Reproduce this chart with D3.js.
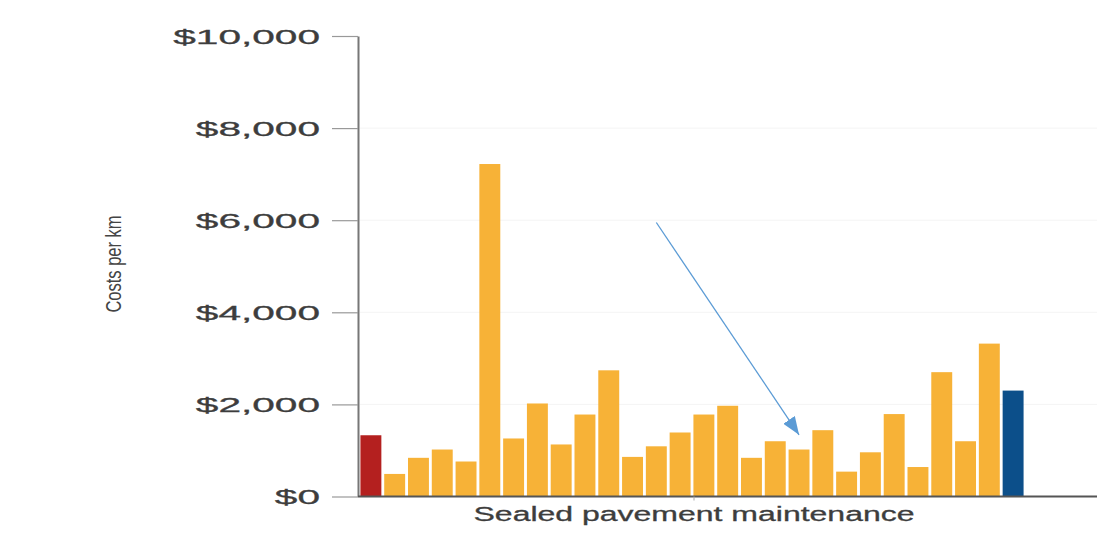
<!DOCTYPE html>
<html>
<head>
<meta charset="utf-8">
<script src="https://cdn.jsdelivr.net/npm/d3@7"></script>
<style>
  html, body { margin: 0; padding: 0; background: #fff; }
  svg { display: block; }
  text { font-family: "Liberation Sans", Arial, sans-serif; }
</style>
</head>
<body>
<svg id="chart" width="1097" height="542"></svg>
<script>
// Councils compared, in display order (benchmark first, average last)
const councils = [
  "C01", "C02", "C03", "C04", "C05", "C06", "C07", "C08", "C09", "C10",
  "C11", "C12", "C13", "C14", "C15", "C16", "C17", "C18", "C19", "C20",
  "C21", "C22", "C23", "C24", "C25", "C26", "C27", "C28"
];
// Sealed pavement maintenance cost per km ($)
const costs = [
  1330, 490, 840, 1020, 760, 7220, 1260, 2020, 1130, 1780,
  2740, 860, 1090, 1390, 1780, 1970, 840, 1200, 1020, 1440,
  540, 960, 1790, 640, 2700, 1200, 3320, 2300
];
// Bar group for colouring
const groups = [
  "benchmark",
  "council", "council", "council", "council", "council", "council", "council", "council", "council",
  "council", "council", "council", "council", "council", "council", "council", "council", "council",
  "council", "council", "council", "council", "council", "council", "council", "council",
  "average"
];
const yTicks = [0, 2000, 4000, 6000, 8000, 10000];
const categoryLabel = ["Sealed pavement maintenance"];
const yTitle = "Costs per km";
// Callout arrow: [bar index, value] for tail and head
const callout = { from: [12, 5950], to: [18, 1340] };

const data = councils.map((c, i) => ({ council: c, cost: costs[i], group: groups[i] }));

const svg = d3.select("#chart");
const axisX = 358, baseY = 496.5;

const x = d3.scaleBand()
  .domain(councils)
  .range([359, 1025])
  .paddingInner(0.12)
  .paddingOuter(0.06);

const y = d3.scaleLinear()
  .domain([0, 10000])
  .range([baseY, 36]);

const color = d3.scaleOrdinal()
  .domain(["benchmark", "council", "average"])
  .range(["#b4201f", "#f7b237", "#0c4f8a"]);

// faint horizontal guides
svg.append("g")
  .selectAll("line")
  .data(yTicks.filter(d => d > 0 && d < 10000))
  .join("line")
  .attr("x1", axisX + 2).attr("x2", 1097)
  .attr("y1", d => y(d)).attr("y2", d => y(d))
  .attr("stroke", "#f4f4f4").attr("stroke-width", 1);

// bars
svg.append("g")
  .selectAll("rect")
  .data(data)
  .join("rect")
  .attr("x", d => x(d.council))
  .attr("width", x.bandwidth())
  .attr("y", d => y(d.cost))
  .attr("height", d => y(0) - y(d.cost))
  .attr("fill", d => color(d.group));

// y axis
const yAxis = svg.append("g")
  .attr("transform", `translate(${axisX},0)`)
  .call(d3.axisLeft(y).tickValues(yTicks).tickFormat(d3.format("$,")).tickSize(26).tickSizeOuter(0));
yAxis.select(".domain").attr("stroke", "#777").attr("stroke-width", 2);
yAxis.selectAll(".tick line").attr("stroke", "#999").attr("stroke-width", 1.2);
yAxis.selectAll(".tick text")
  .attr("x", -38 / 2.03)
  .attr("dy", "0.35em")
  .attr("transform", "scale(2.03,1)")
  .attr("font-size", 20)
  .attr("fill", "#3d3d3d")
  .attr("stroke", "#3d3d3d").attr("stroke-width", 0.3);

// x axis: single category label under the bars
const xCat = d3.scaleBand().domain(categoryLabel).range([axisX, 1030]);
const xAxis = svg.append("g")
  .attr("transform", `translate(0,${baseY})`)
  .call(d3.axisBottom(xCat).tickSize(4).tickSizeOuter(0));
xAxis.select(".domain").attr("d", `M${axisX},0H1097`).attr("stroke", "#555").attr("stroke-width", 2);
xAxis.selectAll(".tick line").attr("stroke", "#aaa");
xAxis.selectAll(".tick text")
  .attr("y", 24.5)
  .attr("dy", 0)
  .attr("transform", "scale(1.6,1)")
  .attr("font-size", 20)
  .attr("fill", "#3d3d3d")
  .attr("stroke", "#3d3d3d").attr("stroke-width", 0.3);

// y title (narrow lettering)
svg.append("text")
  .attr("transform", "translate(113,264) rotate(-90) scale(0.75,1)")
  .attr("text-anchor", "middle")
  .attr("dy", "0.35em")
  .attr("font-size", 22)
  .attr("fill", "#444")
  .text(yTitle);

// callout arrow
const defs = svg.append("defs");
defs.append("marker")
  .attr("id", "head")
  .attr("markerUnits", "userSpaceOnUse")
  .attr("viewBox", "0 0 18 14")
  .attr("refX", 18).attr("refY", 7)
  .attr("markerWidth", 18).attr("markerHeight", 14)
  .attr("orient", "auto")
  .append("path")
  .attr("d", "M0,0L18,7L0,14Z")
  .attr("fill", "#5b9bd5");

const cx = i => x(councils[i]) + x.bandwidth() / 2;
svg.append("line")
  .attr("x1", cx(callout.from[0])).attr("y1", y(callout.from[1]))
  .attr("x2", cx(callout.to[0])).attr("y2", y(callout.to[1]))
  .attr("stroke", "#5b9bd5").attr("stroke-width", 1.3)
  .attr("marker-end", "url(#head)");
</script>
</body>
</html>
